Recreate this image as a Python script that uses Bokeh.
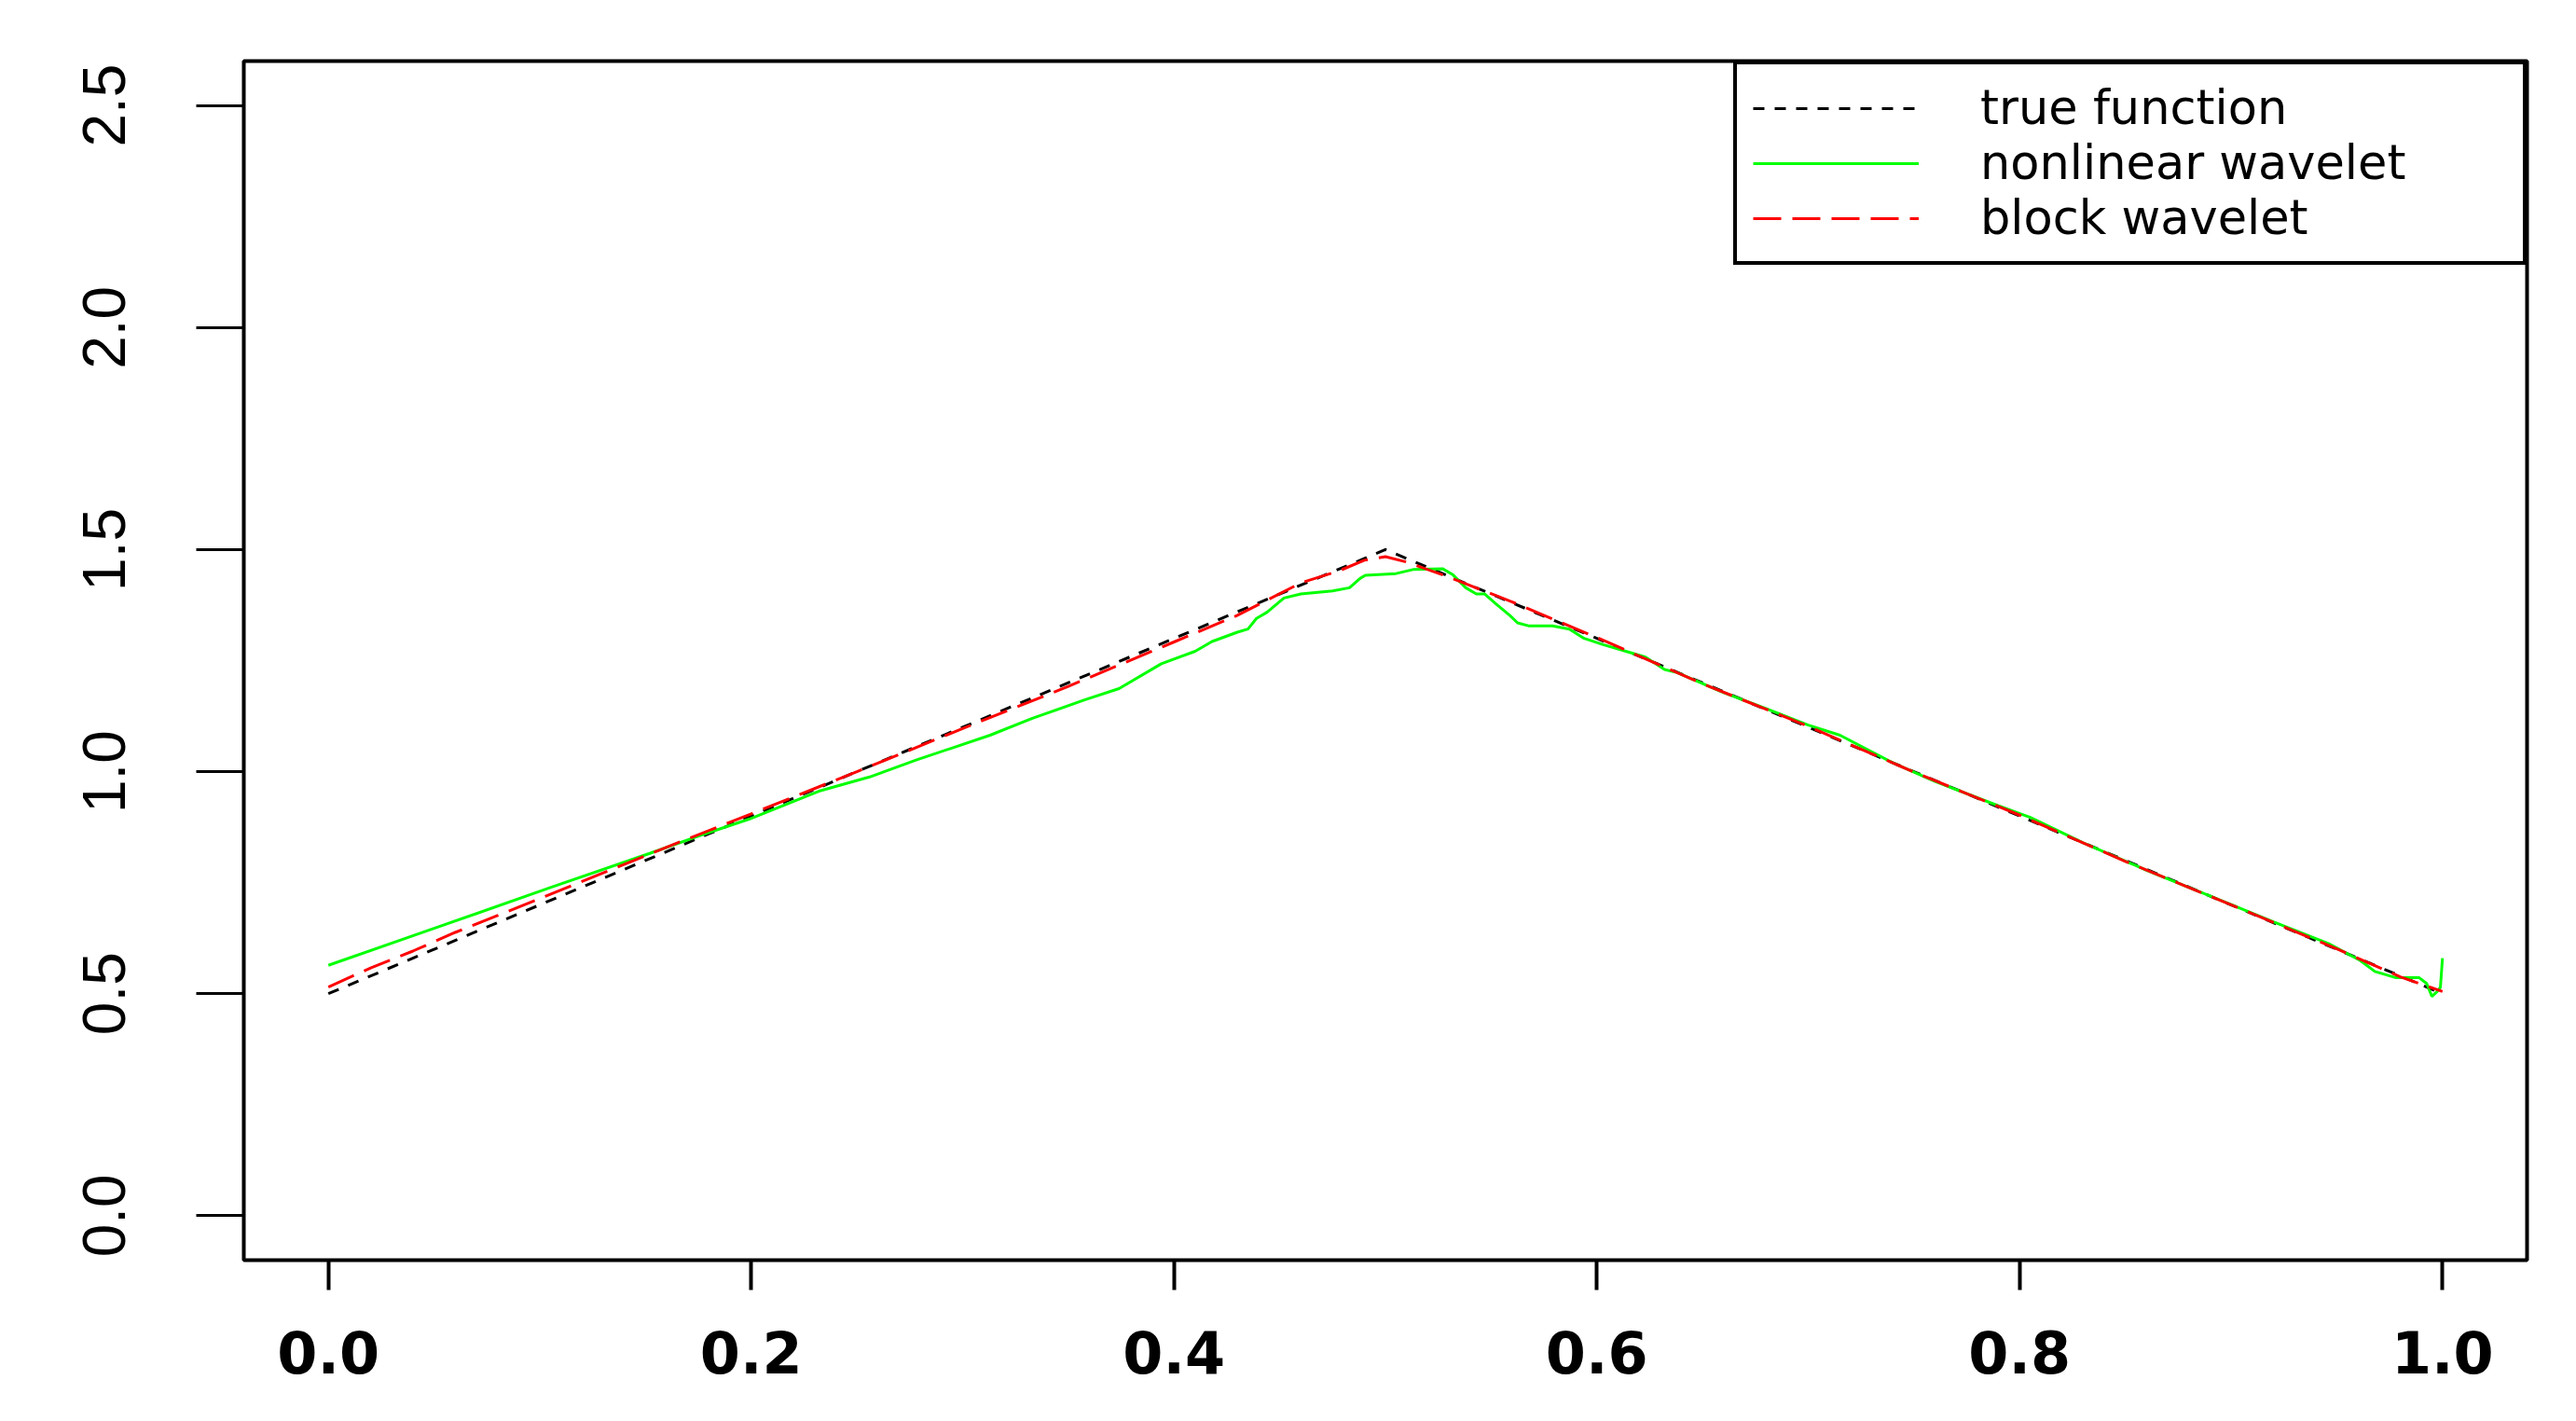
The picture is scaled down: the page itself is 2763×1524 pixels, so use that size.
from bokeh.plotting import figure
from bokeh.models import Range1d, FixedTicker, Legend, LegendItem
from bokeh.embed import file_html
from bokeh.resources import INLINE

# ---- data ----
x_true = [0.0, 0.5, 1.0]
y_true = [0.5, 1.5, 0.5]

x_nl = [0.0, 0.05, 0.105, 0.152, 0.177, 0.199, 0.232, 0.256, 0.278, 0.313,
        0.333, 0.358, 0.374, 0.394, 0.410, 0.418, 0.430, 0.435, 0.439, 0.444,
        0.452, 0.460, 0.475, 0.483, 0.488, 0.4905, 0.505, 0.513, 0.527, 0.532,
        0.538, 0.543, 0.547, 0.552, 0.559, 0.5625, 0.568, 0.579, 0.587, 0.594,
        0.603, 0.613, 0.623, 0.632, 0.638, 0.66, 0.68, 0.70, 0.715, 0.74,
        0.76, 0.79, 0.805, 0.83, 0.86, 0.89, 0.92, 0.946, 0.961, 0.968,
        0.978, 0.989, 0.9925, 0.995, 0.9975, 0.999, 1.0]
y_nl = [0.564, 0.647, 0.739, 0.816, 0.858, 0.893, 0.956, 0.988, 1.026, 1.082,
        1.120, 1.162, 1.187, 1.243, 1.271, 1.293, 1.314, 1.321, 1.345, 1.359,
        1.391, 1.400, 1.407, 1.414, 1.435, 1.442, 1.446, 1.455, 1.457, 1.443,
        1.414, 1.400, 1.400, 1.379, 1.351, 1.335, 1.328, 1.328, 1.321, 1.300,
        1.286, 1.272, 1.258, 1.230, 1.223, 1.178, 1.142, 1.105, 1.082, 1.020,
        0.978, 0.923, 0.897, 0.840, 0.778, 0.720, 0.662, 0.613, 0.575, 0.550,
        0.536, 0.536, 0.523, 0.494, 0.505, 0.514, 0.580]

x_blk = [0.0, 0.02, 0.04, 0.06, 0.08, 0.10, 0.13, 0.16, 0.20, 0.25,
         0.30, 0.35, 0.40, 0.43, 0.46, 0.478, 0.49, 0.50, 0.51, 0.53,
         0.56, 0.60, 0.65, 0.70, 0.75, 0.80, 0.85, 0.90, 0.95, 0.98, 1.0]
y_blk = [0.515, 0.558, 0.596, 0.638, 0.676, 0.714, 0.772, 0.830, 0.905, 1.000,
         1.097, 1.192, 1.292, 1.352, 1.425, 1.452, 1.476, 1.484, 1.472, 1.438,
         1.382, 1.302, 1.198, 1.102, 0.999, 0.902, 0.798, 0.700, 0.601, 0.538,
         0.505]

x_ticks = [0.0, 0.2, 0.4, 0.6, 0.8, 1.0]
x_tick_labels = ["0.0", "0.2", "0.4", "0.6", "0.8", "1.0"]
y_ticks = [0.0, 0.5, 1.0, 1.5, 2.0, 2.5]
y_tick_labels = ["0.0", "0.5", "1.0", "1.5", "2.0", "2.5"]
series_labels = ["true function", "nonlinear wavelet", "block wavelet"]

# ---- figure ----
p = figure(width=2747, height=1508,
           x_range=Range1d(-0.04, 1.04), y_range=Range1d(-0.1, 2.6),
           output_backend="svg", toolbar_location=None,
           min_border_left=261, min_border_right=37,
           min_border_top=65, min_border_bottom=157)
p.background_fill_color = "white"
p.border_fill_color = "white"
p.xgrid.visible = False
p.ygrid.visible = False
p.outline_line_color = "black"
p.outline_line_alpha = 1.0
p.outline_line_width = 4

p.xaxis.ticker = FixedTicker(ticks=x_ticks)
p.xaxis.major_label_overrides = {t: l for t, l in zip(x_ticks, x_tick_labels)}
p.yaxis.ticker = FixedTicker(ticks=y_ticks)
p.yaxis.major_label_overrides = {t: l for t, l in zip(y_ticks, y_tick_labels)}

for ax in (p.xaxis[0], p.yaxis[0]):
    ax.axis_line_color = None
    ax.minor_tick_line_color = None
    ax.major_tick_in = 0
    ax.major_tick_line_color = "black"
    ax.major_label_text_color = "black"

p.xaxis.major_tick_out = 32
p.xaxis.major_tick_line_width = 4
p.xaxis.major_label_standoff = 43
p.xaxis.major_label_text_font = "DejaVu Sans"
p.xaxis.major_label_text_font_style = "bold"
p.xaxis.major_label_text_font_size = "62px"

p.yaxis.major_tick_out = 51
p.yaxis.major_tick_line_width = 3
p.yaxis.major_label_standoff = 76
p.yaxis.major_label_orientation = "vertical"
p.yaxis.major_label_text_font = "Liberation Sans"
p.yaxis.major_label_text_font_size = "64px"

r1 = p.line(x_true, y_true, line_color="black", line_width=3, line_dash="12 11")
r2 = p.line(x_nl, y_nl, line_color="#00ff00", line_width=3)
r3 = p.line(x_blk, y_blk, line_color="#ff0000", line_width=3, line_dash="30 12")

legend = Legend(
    items=[LegendItem(label=series_labels[0], renderers=[r1]),
           LegendItem(label=series_labels[1], renderers=[r2]),
           LegendItem(label=series_labels[2], renderers=[r3])],
    location="top_right", margin=0, padding=17, spacing=0,
    glyph_width=178, glyph_height=30, label_standoff=66, label_width=565,
    label_text_font="DejaVu Sans", label_text_font_size="51px",
    label_text_color="black",
    border_line_color="black", border_line_alpha=1.0, border_line_width=4,
    background_fill_color="white", background_fill_alpha=1.0)
p.add_layout(legend)

open("out.html", "w").write(file_html(p, INLINE))
